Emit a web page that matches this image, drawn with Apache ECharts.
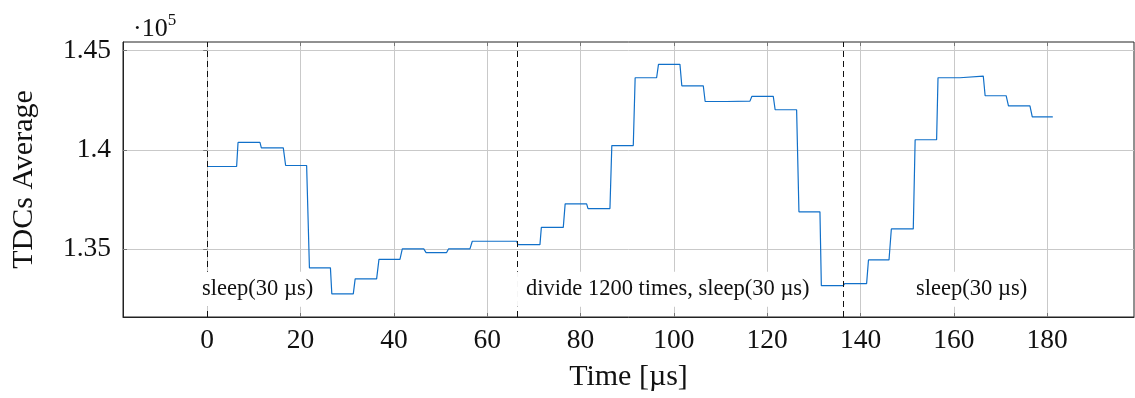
<!DOCTYPE html>
<html>
<head>
<meta charset="utf-8">
<script src="https://cdn.jsdelivr.net/npm/echarts@6/dist/echarts.min.js"></script>
<style>
html,body{margin:0;padding:0;background:#fff;}
#c{width:1135px;height:398px;}
</style>
</head>
<body>
<div id="c"></div>
<script>
// ---- data ----
var segStart = [0, 6.6, 11.6, 16.8, 21.9, 26.7, 31.7, 36.8, 41.8, 46.9, 51.7, 56.8, 61.7,
  66.6, 71.6, 76.7, 81.6, 86.7, 91.7, 96.7, 101.7, 106.7, 111.7, 116.7, 121.7, 126.8, 131.6,
  136.6, 141.7, 146.6, 151.7, 156.6, 161.7, 166.7, 171.7, 176.8];
var segEnd = [6.3, 11.3, 16.3, 21.3, 26.4, 31.3, 36.3, 41.3, 46.4, 51.3, 56.3, 61.3, 66.3,
  71.3, 76.3, 81.3, 86.3, 91.3, 96.3, 101.3, 106.3, 111.3, 116.3, 121.3, 126.3, 131.3, 136.3,
  141.3, 146.1, 151.3, 156.3, 161.3, 166.3, 171.2, 176.3, 181.2];
var segValue = [139160, 140370, 140100, 139210, 134060, 132750, 133505, 134490, 135015, 134830, 135015, 135400, 135400,
  135230, 136100, 137280, 137045, 140215, 143625, 144295, 143220, 142430, 142450, 142685, 142015, 136880, 133165,
  133270, 134460, 136020, 140505, 143625, 143710, 142720, 142215, 141660];

var phaseMarks = [0, 66.5, 136.2];
var annoX = [10.8, 98.7, 163.8];
var annoY = [132980, 132980, 132980];
var annoText = ['sleep(30 µs)', 'divide 1200 times, sleep(30 µs)', 'sleep(30 µs)'];

var xTicks = [0, 20, 40, 60, 80, 100, 120, 140, 160, 180];
var yTicks = [135000, 140000, 145000];

var xTitle = 'Time [µs]';
var yTitle = 'TDCs Average';

// ---- build ----
var lineData = [];
for (var i = 0; i < segValue.length; i++) {
  lineData.push([segStart[i], segValue[i]]);
  lineData.push([segEnd[i], segValue[i]]);
}
var annoData = annoX.map(function (x, i) { return [x, annoY[i], i]; });

var FONT = "'Liberation Serif', 'DejaVu Serif', serif";
var chart = echarts.init(document.getElementById('c'), null, { renderer: 'canvas' });

var gridColor = '#c9c9c9';
chart.setOption({
  animation: false,
  backgroundColor: '#fff',
  title: {
    left: 128, top: 7,
    text: '{a|·10}{b|5}',
    textStyle: {
      fontWeight: 'normal',
      rich: {
        a: { fontFamily: FONT, fontSize: 26, fontWeight: 'normal', color: '#111', verticalAlign: 'bottom', lineHeight: 30 },
        b: { fontFamily: FONT, fontSize: 17, fontWeight: 'normal', color: '#111', verticalAlign: 'top', lineHeight: 30, padding: [0, 0, 7, 0] }
      }
    }
  },
  grid: { left: 123, top: 42, right: 1, bottom: 81, show: true, borderColor: '#222', borderWidth: 1, backgroundColor: 'transparent' },
  xAxis: [{
    type: 'value', min: -18.05, max: 198.6,
    name: xTitle, nameLocation: 'middle', nameGap: 45,
    nameTextStyle: { fontFamily: FONT, fontSize: 30, color: '#111' },
    axisLine: { show: true, onZero: false, lineStyle: { color: '#222', width: 1 } },
    axisTick: { show: true, inside: true, length: 4, customValues: xTicks, lineStyle: { color: '#777' } },
    axisLabel: { customValues: xTicks, fontFamily: FONT, fontSize: 27.5, color: '#111', margin: 10 },
    splitLine: { show: true, lineStyle: { color: gridColor, width: 1 } }
  }, {
    type: 'value', min: -18.05, max: 198.6, position: 'top',
    axisLine: { show: false },
    axisTick: { show: true, inside: true, length: 4, customValues: xTicks, lineStyle: { color: '#777' } },
    axisLabel: { show: false, customValues: xTicks },
    splitLine: { show: false }
  }],
  yAxis: [{
    type: 'value', min: 131590, max: 145423,
    name: yTitle, nameLocation: 'middle', nameGap: 84, nameRotate: 90,
    nameTextStyle: { fontFamily: FONT, fontSize: 30, color: '#111' },
    axisLine: { show: true, onZero: false, lineStyle: { color: '#222', width: 1 } },
    axisTick: { show: true, inside: true, length: 4, customValues: yTicks, lineStyle: { color: '#777' } },
    axisLabel: { customValues: yTicks, fontFamily: FONT, fontSize: 27.5, color: '#111', margin: 12,
      formatter: function (v) { return String(+(v / 1e5).toFixed(2)); } },
    splitLine: { show: true, lineStyle: { color: gridColor, width: 1 } }
  }, {
    type: 'value', min: 131590, max: 145423, position: 'right',
    axisLine: { show: false },
    axisTick: { show: true, inside: true, length: 4, customValues: yTicks, lineStyle: { color: '#777' } },
    axisLabel: { show: false, customValues: yTicks },
    splitLine: { show: false }
  }],
  series: [{
    type: 'line',
    data: lineData,
    showSymbol: false,
    symbol: 'none',
    lineStyle: { color: '#1170c9', width: 1.2 },
    z: 3,
    markLine: {
      silent: true,
      symbol: ['none', 'none'],
      label: { show: false },
      lineStyle: { color: '#111', type: [6, 4], width: 1 },
      data: phaseMarks.map(function (x) { return { xAxis: x }; })
    }
  }, {
    type: 'custom',
    data: annoData,
    z: 20,
    silent: true,
    renderItem: function (params, api) {
      var p = api.coord([api.value(0), api.value(1)]);
      return {
        type: 'text',
        x: p[0], y: p[1],
        z2: 100,
        style: {
          text: annoText[api.value(2)],
          font: '22.5px ' + FONT,
          fill: '#111',
          align: 'center',
          verticalAlign: 'middle',
          backgroundColor: '#fff',
          padding: [6, 9, 6, 9]
        }
      };
    }
  }]
});
</script>
</body>
</html>
